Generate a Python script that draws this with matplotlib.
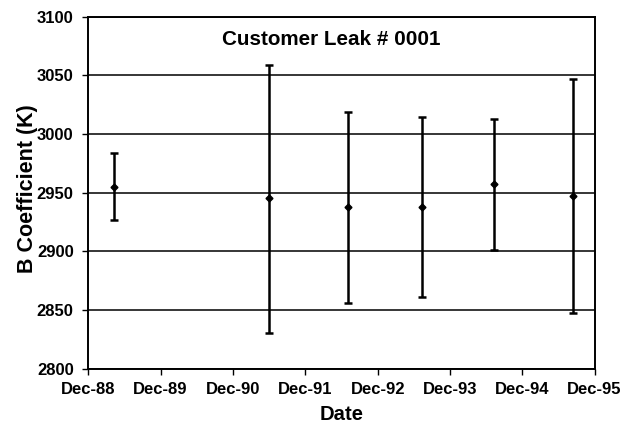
import datetime as dt
import matplotlib
matplotlib.use("Agg")
import matplotlib.pyplot as plt
import matplotlib.dates as mdates

# values
dates = [dt.date(1989, 4, 10), dt.date(1991, 6, 1), dt.date(1992, 7, 5),
         dt.date(1993, 7, 15), dt.date(1994, 7, 10), dt.date(1995, 8, 15)]
b_coef = [2955, 2945, 2938, 2938, 2957, 2947]
upper = [2984, 3059, 3019, 3014, 3013, 3047]
lower = [2927, 2830, 2856, 2861, 2901, 2847]

tick_dates = [dt.date(y, 12, 1) for y in range(1988, 1996)]

plt.rcParams['font.family'] = ['Liberation Sans', 'DejaVu Sans']

fig = plt.figure(figsize=(6.33, 4.28), dpi=100)
ax = fig.add_axes([0.1395, 0.139, 0.7997, 0.8224])

yerr = [[c - lo for c, lo in zip(b_coef, lower)],
        [up - c for c, up in zip(b_coef, upper)]]
ax.errorbar(dates, b_coef, yerr=yerr, fmt='D', color='black', ms=3.5,
            ecolor='black', elinewidth=1.8, capsize=2.7, capthick=1.8, zorder=3)

ax.set_ylim(2800, 3100)
ax.set_yticks(range(2800, 3101, 50))
ax.set_xlim(tick_dates[0], tick_dates[-1])
ax.set_xticks(tick_dates)
ax.xaxis.set_major_formatter(mdates.DateFormatter('%b-%y'))

ax.yaxis.grid(True, color='black', lw=1.1)
ax.set_axisbelow(True)
for s in ax.spines.values():
    s.set_color('black')
    s.set_linewidth(1.4)
ax.tick_params(direction='out', length=4.5, width=1, labelsize=12)
ax.tick_params(axis='x', pad=5.5)
ax.tick_params(axis='y', pad=6)
for lab in ax.get_xticklabels() + ax.get_yticklabels():
    lab.set_fontweight('bold')

ax.set_xlabel('Date', fontsize=14.6, fontweight='bold')
ax.xaxis.set_label_coords(0.5, -0.105)
ax.set_ylabel('B Coefficient (K)', fontsize=15.5, fontweight='bold')
ax.yaxis.set_label_coords(-0.1, 0.51)
ax.text(0.48, 0.936, 'Customer Leak # 0001', transform=ax.transAxes,
        ha='center', va='center', fontsize=14.9, fontweight='bold')

fig.savefig('out.png', dpi=100)
